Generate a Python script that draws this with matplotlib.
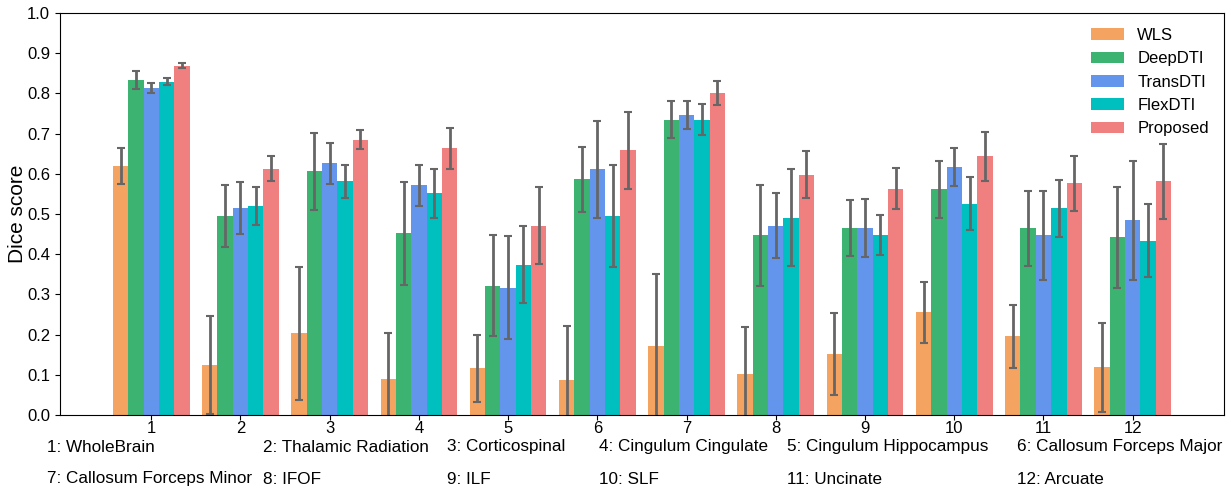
import numpy as np
import matplotlib
matplotlib.use("Agg")
import matplotlib.pyplot as plt

plt.rcParams["font.family"] = ["Liberation Sans", "DejaVu Sans"]

groups = np.arange(1, 13)
methods = ["WLS", "DeepDTI", "TransDTI", "FlexDTI", "Proposed"]
colors = ["#F4A460", "#3CB371", "#6495ED", "#00BFBF", "#F08080"]

wls_mean = [0.620, 0.124, 0.203, 0.089, 0.116, 0.086, 0.171, 0.101, 0.151, 0.255, 0.196, 0.119]
wls_std = [0.045, 0.122, 0.166, 0.114, 0.083, 0.136, 0.179, 0.117, 0.102, 0.076, 0.078, 0.111]

deep_mean = [0.834, 0.494, 0.606, 0.452, 0.322, 0.586, 0.735, 0.447, 0.466, 0.561, 0.464, 0.442]
deep_std = [0.022, 0.077, 0.096, 0.128, 0.126, 0.080, 0.047, 0.126, 0.070, 0.072, 0.093, 0.125]

trans_mean = [0.814, 0.514, 0.626, 0.571, 0.317, 0.611, 0.747, 0.471, 0.466, 0.616, 0.447, 0.484]
trans_std = [0.013, 0.065, 0.051, 0.051, 0.128, 0.120, 0.035, 0.081, 0.072, 0.047, 0.110, 0.147]

flex_mean = [0.829, 0.519, 0.581, 0.551, 0.374, 0.494, 0.735, 0.491, 0.447, 0.526, 0.514, 0.434]
flex_std = [0.009, 0.047, 0.041, 0.060, 0.095, 0.127, 0.038, 0.120, 0.050, 0.065, 0.070, 0.090]

prop_mean = [0.869, 0.613, 0.685, 0.663, 0.471, 0.658, 0.800, 0.598, 0.563, 0.643, 0.576, 0.581]
prop_std = [0.007, 0.032, 0.023, 0.050, 0.096, 0.095, 0.030, 0.058, 0.051, 0.061, 0.068, 0.093]

tract_names = [
    "1: WholeBrain", "2: Thalamic Radiation", "3: Corticospinal",
    "4: Cingulum Cingulate", "5: Cingulum Hippocampus", "6: Callosum Forceps Major",
    "7: Callosum Forceps Minor", "8: IFOF", "9: ILF",
    "10: SLF", "11: Uncinate", "12: Arcuate",
]

means = [wls_mean, deep_mean, trans_mean, flex_mean, prop_mean]
stds = [wls_std, deep_std, trans_std, flex_std, prop_std]

fig = plt.figure(figsize=(12.31, 4.88), dpi=100)
ax = fig.add_axes([0.0487, 0.1496, 0.9456, 0.8238])

w = 0.172
for i, (name, m, s, c) in enumerate(zip(methods, means, stds, colors)):
    ax.bar(groups + (i - 2) * w, m, w, color=c, label=name,
           yerr=s, capsize=3, ecolor="#666666",
           error_kw={"elinewidth": 2, "capthick": 1.5})

ax.set_ylim(0, 1.0)
ax.set_yticks(np.arange(0, 1.01, 0.1))
ax.set_xticks(groups)
ax.tick_params(axis="y", labelsize=12)
ax.tick_params(axis="x", labelsize=12, pad=0.5)
ax.set_ylabel("Dice score", fontsize=15)
ax.yaxis.set_label_coords(-0.0287, 0.5)
ax.legend(loc="upper right", frameon=False, fontsize=12)

# tract names under the axis, 6 columns x 2 rows
col_x = [47, 263, 447, 599, 787, 1017]
row_y = [447, 479]
for k, label in enumerate(tract_names):
    r, c = divmod(k, 6)
    fig.text(col_x[c] / 1231, 1 - row_y[r] / 488, label,
             fontsize=12.3, ha="left", va="center")

fig.savefig("out.png", dpi=100)
